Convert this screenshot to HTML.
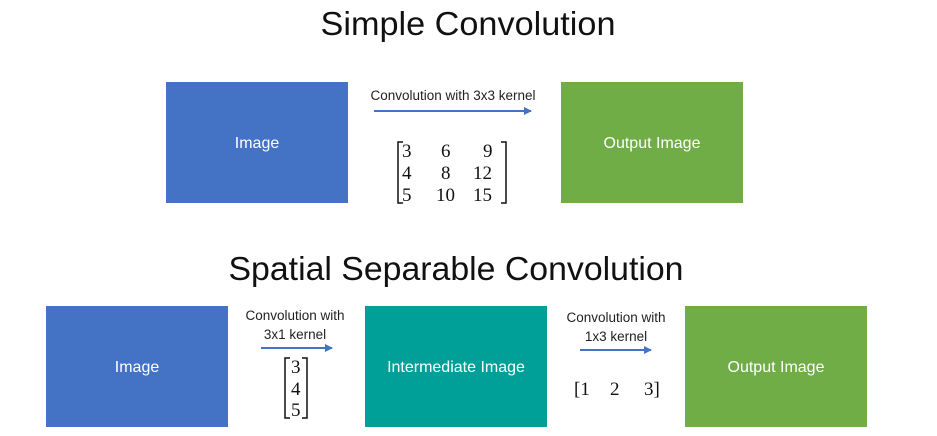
<!DOCTYPE html>
<html><head><meta charset="utf-8"><style>
html,body{margin:0;padding:0;background:#fff}
svg{display:block}
text{font-family:"Liberation Sans",sans-serif}
.t{font-size:33px;fill:#111}
.l{font-size:13.5px;fill:#222}
.b{font-size:16px;fill:#fff}
.m text, text.m{font-family:"Liberation Serif",serif;font-size:19px;fill:#111}
</style></head><body>
<svg width="937" height="436" viewBox="0 0 937 436" xmlns="http://www.w3.org/2000/svg">
<defs><marker id="a" markerWidth="8" markerHeight="8" refX="7" refY="4" orient="auto" markerUnits="userSpaceOnUse"><path d="M0,0 L8,4 L0,8 z" fill="#4472C4"/></marker></defs>
<text class="t" x="468" y="35" text-anchor="middle" textLength="295" lengthAdjust="spacingAndGlyphs">Simple Convolution</text>
<rect x="166" y="82" width="182" height="121" fill="#4472C4"/>
<text class="b" x="257" y="148" text-anchor="middle">Image</text>
<rect x="561" y="82" width="182" height="121" fill="#70AD47"/>
<text class="b" x="652" y="148" text-anchor="middle">Output Image</text>
<text class="l" x="453" y="100" text-anchor="middle">Convolution with 3x3 kernel</text>
<line x1="374" y1="111" x2="531" y2="111" stroke="#4472C4" stroke-width="2" marker-end="url(#a)"/>
<path d="M403,142 H398 V203 H403 M501,142 H506 V203 H501" fill="none" stroke="#111" stroke-width="1.5"/>
<g class="m">
<text x="402" y="157">3</text><text x="441" y="157">6</text><text x="483" y="157">9</text>
<text x="402" y="179">4</text><text x="441" y="179">8</text><text x="473" y="179">12</text>
<text x="402" y="201">5</text><text x="436" y="201">10</text><text x="473" y="201">15</text>
</g>
<text class="t" x="456" y="280" text-anchor="middle" textLength="455" lengthAdjust="spacingAndGlyphs">Spatial Separable Convolution</text>
<rect x="46" y="306" width="182" height="121" fill="#4472C4"/>
<text class="b" x="137" y="372" text-anchor="middle">Image</text>
<rect x="365" y="306" width="182" height="121" fill="#00A099"/>
<text class="b" x="456" y="372" text-anchor="middle">Intermediate Image</text>
<rect x="685" y="306" width="182" height="121" fill="#70AD47"/>
<text class="b" x="776" y="372" text-anchor="middle">Output Image</text>
<text class="l" x="295" y="320" text-anchor="middle">Convolution with</text>
<text class="l" x="295" y="339" text-anchor="middle">3x1 kernel</text>
<line x1="261" y1="348" x2="332" y2="348" stroke="#4472C4" stroke-width="2" marker-end="url(#a)"/>
<path d="M290,358 H285 V418 H290 M302,358 H307 V418 H302" fill="none" stroke="#111" stroke-width="1.5"/>
<g class="m">
<text x="291" y="373">3</text><text x="291" y="395">4</text><text x="291" y="416">5</text>
</g>
<g class="m">
<text x="574" y="395">[1</text><text x="610" y="395">2</text><text x="644" y="395">3]</text>
</g>
<text class="l" x="616" y="322" text-anchor="middle">Convolution with</text>
<text class="l" x="616" y="341" text-anchor="middle">1x3 kernel</text>
<line x1="580" y1="350" x2="651" y2="350" stroke="#4472C4" stroke-width="2" marker-end="url(#a)"/>
</svg>
</body></html>
